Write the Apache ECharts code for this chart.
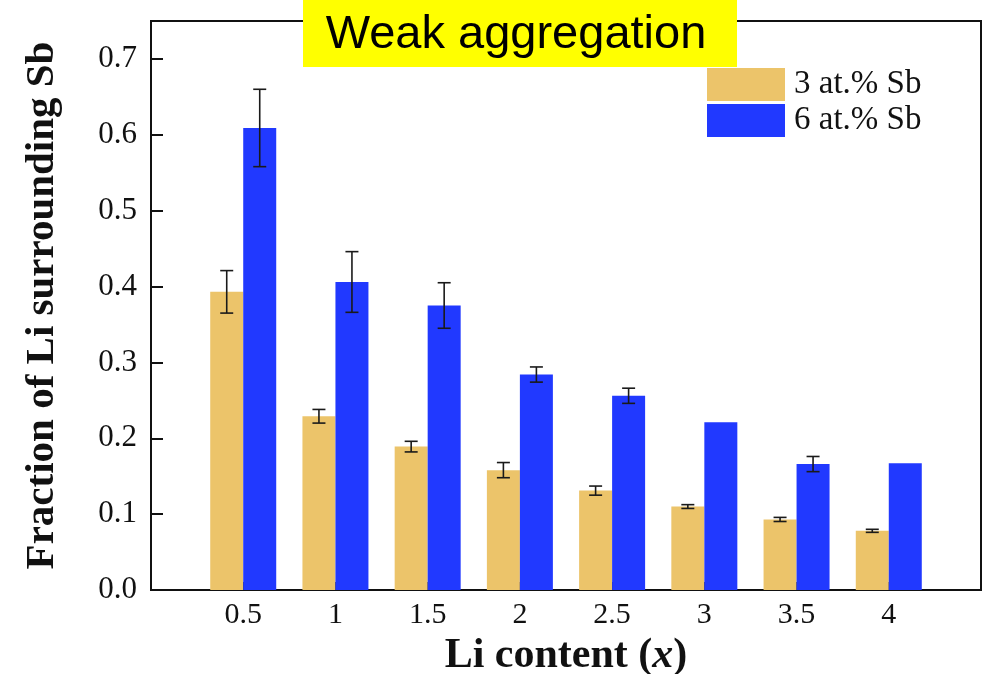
<!DOCTYPE html>
<html>
<head>
<meta charset="utf-8">
<script src="https://cdn.jsdelivr.net/npm/echarts@6/dist/echarts.min.js"></script>
<style>html,body{margin:0;padding:0;background:#fff}#c{width:992px;height:674px}</style>
</head>
<body>
<div id="c"></div>
<script>
// ---- data ----
const liContent = [0.5, 1, 1.5, 2, 2.5, 3, 3.5, 4];
const xTickLabels = ['0.5', '1', '1.5', '2', '2.5', '3', '3.5', '4'];
const yTickLabels = ['0.0', '0.1', '0.2', '0.3', '0.4', '0.5', '0.6', '0.7'];
const sb3 = [0.393, 0.229, 0.189, 0.158, 0.131, 0.110, 0.093, 0.078];
const sb3Err = [0.028, 0.009, 0.007, 0.010, 0.006, 0.0025, 0.0027, 0.002];
const sb6 = [0.609, 0.406, 0.375, 0.284, 0.256, 0.221, 0.166, 0.167];
const sb6Err = [0.051, 0.040, 0.030, 0.010, 0.010, 0, 0.010, 0];
const seriesNames = ['3 at.% Sb', '6 at.% Sb'];

const GOLD = '#ECC46A', BLUE = '#2139FF';
const BAR_W = 33;
const serif = '"Liberation Serif", "Times New Roman", serif';

function errData(vals, errs) {
  return liContent.map((x, i) => [x, vals[i] - errs[i], vals[i] + errs[i], errs[i]]);
}
function errRender(offset) {
  return function (params, api) {
    if (api.value(3) <= 0) return null;
    const lo = api.coord([api.value(0), api.value(1)]);
    const hi = api.coord([api.value(0), api.value(2)]);
    const x = lo[0] + offset, cap = 6.5;
    const style = { stroke: '#1a1a1a', lineWidth: 1.6 };
    return {
      type: 'group',
      children: [
        { type: 'line', shape: { x1: x, y1: lo[1], x2: x, y2: hi[1] }, style },
        { type: 'line', shape: { x1: x - cap, y1: lo[1], x2: x + cap, y2: lo[1] }, style },
        { type: 'line', shape: { x1: x - cap, y1: hi[1], x2: x + cap, y2: hi[1] }, style }
      ]
    };
  };
}

const chart = echarts.init(document.getElementById('c'), null, { renderer: 'canvas' });
chart.setOption({
  animation: false,
  backgroundColor: '#fff',
  grid: { left: 151, top: 21, right: 11, bottom: 84, show: true, borderColor: '#111', borderWidth: 2,
          backgroundColor: 'transparent', containLabel: false, outerBoundsMode: 'none' },
  legend: {
    data: seriesNames,
    orient: 'vertical',
    left: 707, top: 68, padding: 0,
    itemWidth: 78, itemHeight: 33, itemGap: 3,
    icon: 'rect',
    textStyle: { fontFamily: serif, fontSize: 33, color: '#111', padding: [0, 0, 0, 4] }
  },
  xAxis: {
    type: 'value', min: 0, max: 4.5, interval: 0.5,
    name: '{b|Li content (}{i|x}{b|)}',
    nameLocation: 'middle', nameGap: 44,
    nameTextStyle: { rich: {
      b: { fontFamily: serif, fontWeight: 'bold', fontSize: 42, color: '#111' },
      i: { fontFamily: serif, fontWeight: 'bold', fontStyle: 'italic', fontSize: 42, color: '#111' }
    } },
    axisLine: { show: true, lineStyle: { color: '#111', width: 2 } },
    axisTick: { show: true, inside: true, length: 8, lineStyle: { color: '#111', width: 2 } },
    splitLine: { show: false },
    axisLabel: {
      fontFamily: serif, fontSize: 30, color: '#111', margin: 10,
      formatter: v => { const i = liContent.indexOf(v); return i >= 0 ? xTickLabels[i] : ''; }
    }
  },
  yAxis: {
    type: 'value', min: 0, max: 0.75, interval: 0.1,
    name: 'Fraction of Li surrounding Sb',
    nameLocation: 'middle', nameGap: 88,
    nameTextStyle: { fontFamily: serif, fontWeight: 'bold', fontSize: 41, color: '#111' },
    axisLine: { show: true, lineStyle: { color: '#111', width: 2 } },
    axisTick: { show: true, inside: true, length: 12, lineStyle: { color: '#111', width: 2 } },
    splitLine: { show: false },
    axisLabel: {
      fontFamily: serif, fontSize: 31, color: '#111', margin: 14,
      formatter: v => { const k = Math.round(v * 10); return Math.abs(v * 10 - k) < 1e-6 && yTickLabels[k] ? yTickLabels[k] : ''; }
    }
  },
  series: [
    { name: seriesNames[0], type: 'bar', barWidth: BAR_W, barGap: '0%', itemStyle: { color: GOLD },
      data: liContent.map((x, i) => [x, sb3[i]]), z: 2 },
    { name: seriesNames[1], type: 'bar', barWidth: BAR_W, barGap: '0%', itemStyle: { color: BLUE },
      data: liContent.map((x, i) => [x, sb6[i]]), z: 2 },
    { name: 'err3', type: 'custom', renderItem: errRender(-BAR_W / 2), data: errData(sb3, sb3Err), z: 5, encode: { x: 0, y: [1, 2] } },
    { name: 'err6', type: 'custom', renderItem: errRender(BAR_W / 2), data: errData(sb6, sb6Err), z: 5, encode: { x: 0, y: [1, 2] } }
  ],
  graphic: [
    { type: 'rect', x: 303, y: 0, shape: { width: 434, height: 67 }, style: { fill: '#FFFF00' }, z: 100 },
    { type: 'text', x: 516, y: 35, z: 101,
      style: { text: 'Weak aggregation', fontFamily: '"Liberation Sans", Arial, sans-serif', fontSize: 47, fill: '#000', align: 'center', verticalAlign: 'middle' } }
  ]
});
</script>
</body>
</html>
